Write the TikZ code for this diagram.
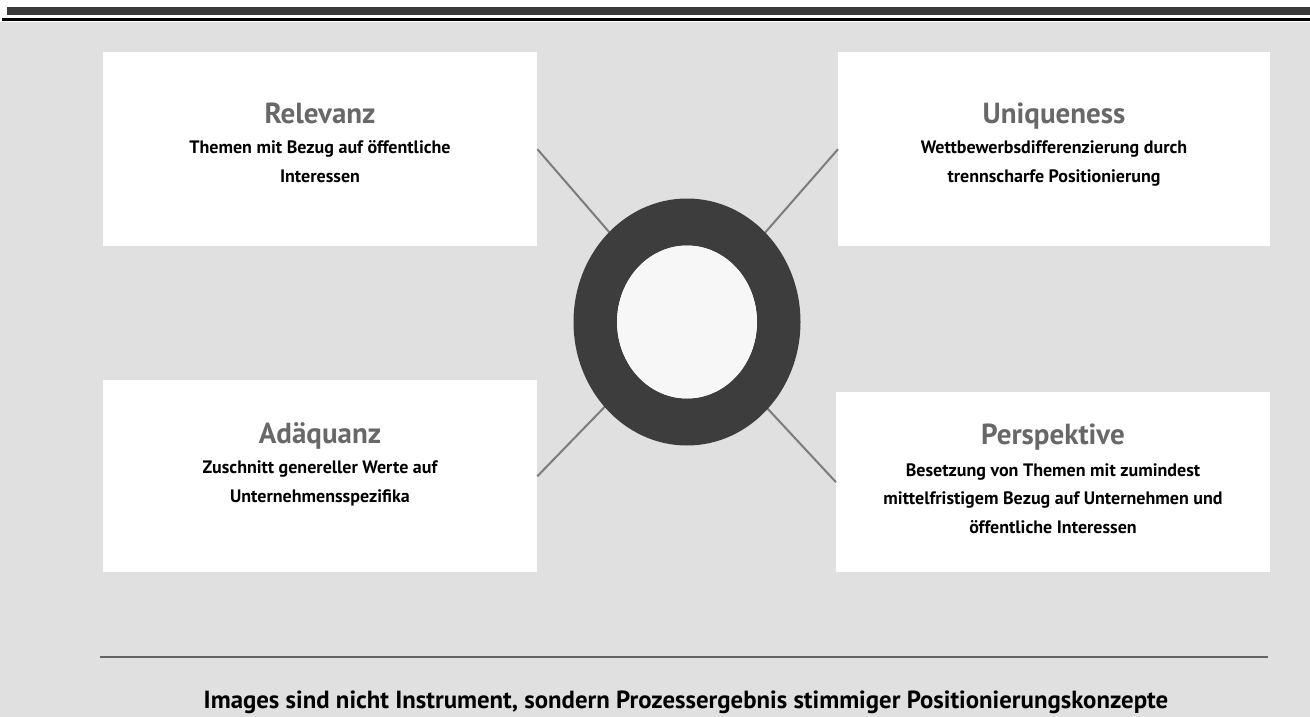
\documentclass[tikz,border=0pt]{standalone}
\usepackage{fontspec}
\setmainfont{PT Sans}
\usepackage{xcolor}
\usetikzlibrary{positioning}
\definecolor{paper}{HTML}{E0E0E0}
\definecolor{headgray}{HTML}{686868}
\definecolor{ringgray}{HTML}{3D3D3D}
\definecolor{spokegray}{HTML}{7C7C7C}
\definecolor{bargray}{HTML}{3A3A3A}

\begin{document}
\begin{tikzpicture}[x=1pt,y=-1pt,
  box/.style={fill=white, draw=none, inner sep=0pt, anchor=north west},
  heading/.style={text=headgray, inner sep=0pt, anchor=base,
    font=\fontsize{29}{31}\selectfont\bfseries},
  body/.style={inner sep=0pt, anchor=base, align=center,
    font=\fontsize{18}{28.5}\selectfont\bfseries},
  spoke/.style={draw=spokegray, line width=2pt}]
\useasboundingbox (0,0) rectangle (1310,717);
\fill[white] (0,0) rectangle (1310,717);
% page head
\fill[bargray] (7,7) rectangle (1310,15);
\fill[black] (2,18) rectangle (1310,21.5);
\fill[paper] (0,22) rectangle (1310,717);
% the four fields
\node[box, minimum width=434pt, minimum height=194pt] (relevanz) at (103,52) {};
\node[box, minimum width=432pt, minimum height=194pt] (unique) at (838,52) {};
\node[box, minimum width=434pt, minimum height=192pt] (adaequanz) at (103,380) {};
\node[box, minimum width=434pt, minimum height=180pt] (perspektive) at (836,392) {};
\coordinate (ring) at (687,322);
\draw[spoke] (relevanz.east) -- (ring);
\draw[spoke] (unique.west) -- (ring);
\draw[spoke] (adaequanz.east) -- (ring);
\draw[spoke] (perspektive.west) -- (ring);
% ring in the middle
\fill[ringgray, even odd rule] (ring) ellipse (113.5 and 123.5) (ring) ellipse (70 and 76.5);
\fill[white!97!black] (ring) ellipse (70 and 76.5);
% texts (base = last line)
\node[heading] (relevanzhead) at (320,123) {Relevanz};
\node[body] (relevanztext) at (320,182) {Themen mit Bezug auf öffentliche\\Interessen};
\node[heading] (uniquehead) at (1054,123) {Uniqueness};
\node[body] (uniquetext) at (1054,182) {Wettbewerbsdifferenzierung durch\\trennscharfe Positionierung};
\node[heading] (adaequanzhead) at (320,443) {Adäquanz};
\node[body] (adaequanztext) at (320,502) {Zuschnitt genereller Werte auf\\Unternehmensspezifika};
\node[heading] (perspektivehead) at (1053,444) {Perspektive};
\node[body] (perspektivetext) at (1053,533) {Besetzung von Themen mit zumindest\\mittelfristigem Bezug auf Unternehmen und\\öffentliche Interessen};
% foot
\coordinate (ruleleft) at (100,657);
\coordinate (ruleright) at (1268,657);
\draw[draw=spokegray!80!black, line width=2.5pt] (ruleleft) -- (ruleright);
\node[inner sep=0pt, anchor=base] (motto) at (686,708)
  {\fontsize{24.8}{26}\selectfont\bfseries Images sind nicht Instrument, sondern Prozessergebnis stimmiger Positionierungskonzepte};
\end{tikzpicture}
\end{document}
